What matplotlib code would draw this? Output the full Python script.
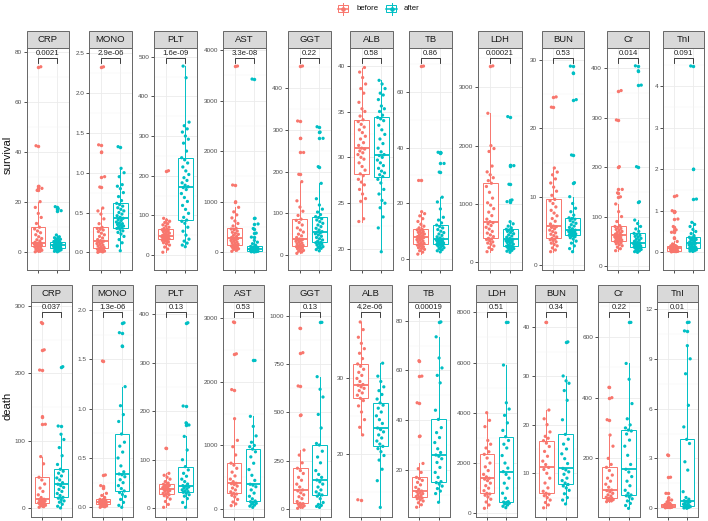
import numpy as np
import matplotlib
matplotlib.use("Agg")
import matplotlib.pyplot as plt
from matplotlib.patches import Rectangle
from matplotlib.lines import Line2D
from matplotlib.ticker import AutoMinorLocator
import matplotlib.transforms as mtrans

plt.rcParams['font.family'] = ['Liberation Sans', 'DejaVu Sans']

# ---------------- data ----------------
markers = ["CRP", "MONO", "PLT", "AST", "GGT", "ALB", "TB", "LDH", "BUN", "Cr", "TnI"]
groups = ["before", "after"]
row_names = ["survival", "death"]

surv_p = ["0.0021", "2.9e-06", "1.6e-09", "3.3e-08", "0.22", "0.58", "0.86", "0.00021", "0.53", "0.014", "0.091"]
death_p = ["0.037", "1.3e-06", "0.13", "0.53", "0.13", "4.2e-06", "0.00019", "0.51", "0.34", "0.22", "0.01"]

# survival row
surv_CRP_before = [0.2, 0.4, 0.6, 0.8, 1.0, 1.3, 1.6, 1.9, 2.2, 2.4, 2.6, 2.8, 2.9, 3.0, 3.1, 3.2, 3.3, 3.4, 3.5, 3.55, 3.6, 4.0, 4.5, 5.0, 5.5, 6.2, 7.0, 7.8, 8.5, 9.3, 10.0, 11.5, 13.9, 15.5, 17.9, 20.2, 24.7, 25.5, 26.3, 42.5, 74.0]
surv_CRP_after = [0.2, 0.4, 0.6, 0.8, 1.0, 1.2, 1.35, 1.5, 1.6, 1.7, 1.8, 1.9, 2.0, 2.1, 2.2, 2.3, 2.4, 2.5, 2.6, 2.7, 2.8, 2.95, 3.1, 3.25, 3.4, 3.55, 3.7, 3.85, 4.0, 4.15, 4.3, 4.6, 4.9, 5.2, 5.5, 5.8, 6.2, 6.9, 16.6, 17.4, 18.2]
surv_MONO_before = [0.0, 0.005, 0.01, 0.015, 0.02, 0.025, 0.03, 0.035, 0.04, 0.045, 0.05, 0.06, 0.07, 0.08, 0.09, 0.10, 0.11, 0.12, 0.13, 0.14, 0.146, 0.16, 0.18, 0.2, 0.22, 0.24, 0.26, 0.28, 0.29, 0.30, 0.314, 0.36, 0.42, 0.48, 0.52, 0.556, 0.82, 0.95, 1.26, 1.35, 2.33]
surv_MONO_after = [0.02, 0.08, 0.12, 0.16, 0.2, 0.23, 0.25, 0.27, 0.29, 0.30, 0.31, 0.32, 0.33, 0.34, 0.35, 0.36, 0.37, 0.38, 0.40, 0.41, 0.427, 0.44, 0.46, 0.48, 0.5, 0.52, 0.54, 0.56, 0.58, 0.60, 0.615, 0.65, 0.70, 0.75, 0.80, 0.83, 0.85, 0.95, 1.0, 1.055, 1.327]
surv_PLT_before = [7, 15, 20, 25, 28, 31, 33, 35, 37, 38.5, 39.6, 40.5, 41.5, 42.5, 43.5, 44.5, 45.5, 46.3, 47, 47.5, 47.9, 49.5, 51, 53, 55, 57, 59, 61, 62.5, 63.8, 64.8, 67, 70, 73, 76, 79, 82, 85, 88, 92.5, 212.5]
surv_PLT_after = [21, 25, 30, 35, 40, 50, 60, 70, 80, 85, 88, 95, 105, 115, 125, 135, 145, 155, 165, 170, 172.2, 176, 182, 188, 195, 203, 212, 222, 232, 240, 245.3, 262, 282, 292, 300, 310, 318, 326, 335, 447, 476.3]
surv_AST_before = [20, 40, 55, 70, 85, 95, 105, 115, 125, 135, 144, 160, 175, 190, 205, 220, 235, 250, 262, 270, 277, 295, 315, 335, 355, 375, 395, 420, 445, 460, 474, 520, 570, 620, 680, 740, 800, 889, 1000, 1330, 3682]
surv_AST_after = [5, 10, 13, 16, 19, 22, 24, 26, 28, 29, 30, 33, 37, 41, 45, 49, 53, 56, 58, 59, 60, 65, 70, 75, 80, 85, 90, 95, 102, 108, 115, 140, 170, 200, 235, 300, 380, 470, 560, 672, 3425]
surv_GGT_before = [4, 7, 9, 11, 13, 15, 17, 18.5, 20, 21, 21.6, 23, 25, 27, 29, 31, 33, 35, 36.5, 37.5, 38.4, 42, 46, 50, 55, 60, 65, 72, 78, 83, 86, 95, 105, 115, 130, 176, 193.6, 246, 280, 321.6, 453.6]
surv_GGT_after = [10, 13, 16, 18, 20, 22, 24, 26, 28, 29.5, 30.5, 33, 36, 39, 42, 45, 48, 51, 53, 55, 56, 60, 64, 68, 72, 76, 80, 84, 87, 90, 92, 97, 103, 110, 120, 135, 172, 212, 280, 295, 307.8]
surv_ALB_before = [23.0, 23.3, 25.2, 25.5, 26.0, 26.5, 27.0, 27.3, 27.6, 28.0, 28.2, 28.6, 29.0, 29.4, 29.8, 30.0, 30.3, 30.5, 30.7, 30.9, 31.0, 31.3, 31.6, 32.0, 32.3, 32.7, 33.0, 33.3, 33.6, 33.9, 34.1, 34.5, 35.0, 35.3, 36.0, 37.0, 37.5, 38.0, 38.7, 39.3, 39.8]
surv_ALB_after = [19.7, 22.3, 23.5, 24.5, 25.0, 25.3, 26.0, 26.5, 27.2, 27.6, 27.9, 28.1, 28.3, 28.5, 28.8, 29.1, 29.4, 29.7, 30.0, 30.2, 30.3, 30.6, 31.0, 31.5, 32.0, 32.5, 33.0, 33.5, 34.0, 34.2, 34.35, 34.6, 35.0, 35.3, 35.6, 36.3, 36.8, 37.0, 37.5, 38.0, 38.4]
surv_TB_before = [1.8, 2.5, 3.0, 3.5, 3.8, 4.1, 4.4, 4.7, 5.0, 5.15, 5.3, 5.6, 5.9, 6.2, 6.5, 6.8, 7.0, 7.3, 7.5, 7.7, 7.8, 8.1, 8.4, 8.7, 9.0, 9.3, 9.6, 9.9, 10.2, 10.5, 10.7, 11.2, 11.8, 12.5, 13.5, 14.5, 15.5, 16.3, 17.0, 28.2, 69.2]
surv_TB_after = [2.6, 3.0, 3.4, 3.8, 4.1, 4.4, 4.7, 4.9, 5.1, 5.25, 5.4, 5.6, 5.8, 6.0, 6.2, 6.4, 6.6, 6.8, 7.0, 7.1, 7.2, 7.6, 8.0, 8.5, 9.0, 9.5, 10.0, 10.6, 11.2, 11.7, 12.2, 13.0, 14.0, 15.0, 18.0, 20.5, 22.2, 31.2, 34.3, 38.1, 38.3]
surv_LDH_before = [182, 220, 250, 280, 310, 330, 350, 370, 390, 400, 411, 440, 470, 500, 530, 570, 600, 630, 660, 680, 696, 740, 800, 860, 920, 980, 1020, 1100, 1200, 1300, 1355, 1400, 1450, 1500, 1550, 1650, 1900, 1950, 2000, 2555, 3367]
surv_LDH_after = [172, 190, 205, 220, 235, 245, 255, 263, 270, 275, 280, 295, 310, 325, 340, 350, 360, 370, 380, 388, 394, 410, 430, 450, 470, 490, 510, 530, 545, 555, 566, 590, 620, 660, 696, 1040, 1069, 1338, 1657, 1660, 2498]
surv_BUN_before = [1.95, 2.2, 2.5, 2.8, 3.0, 3.2, 3.4, 3.6, 3.7, 3.8, 3.9, 4.1, 4.3, 4.5, 4.7, 4.9, 5.1, 5.3, 5.5, 5.6, 5.7, 6.0, 6.4, 6.8, 7.2, 7.6, 8.0, 8.5, 9.0, 9.4, 9.6, 10.2, 10.8, 11.4, 12.0, 12.6, 13.2, 13.6, 14.2, 23.1, 24.6]
surv_BUN_after = [1.95, 2.4, 2.8, 3.2, 3.5, 3.8, 4.0, 4.15, 4.25, 4.35, 4.4, 4.5, 4.55, 4.6, 4.7, 4.8, 4.85, 4.9, 5.0, 5.05, 5.1, 5.3, 5.5, 5.7, 5.9, 6.1, 6.3, 6.5, 6.7, 6.8, 6.9, 7.3, 7.8, 8.3, 9.0, 10.0, 12.05, 16.1, 24.2, 28.1, 29.1]
surv_Cr_before = [31, 35, 38, 41, 43, 45, 47, 48.5, 49.5, 50.5, 51.2, 52.5, 54, 55.5, 57, 58, 59, 60.5, 61.5, 62.3, 62.8, 64.5, 66, 68, 70, 72, 74, 76, 78, 80, 81.6, 90, 100, 110, 125.5, 140, 148, 155, 201, 295.5, 355]
surv_Cr_after = [27.7, 29, 30.5, 32, 33.5, 35, 36, 37, 38, 38.5, 39, 39.5, 40, 40.5, 41.5, 42.5, 43.5, 44.5, 45, 45.5, 46, 48, 50, 52, 54, 56, 58, 60, 62, 64, 66, 70, 75, 80, 86, 93, 130, 201, 366, 395, 405]
surv_TnI_before = [0.01, 0.015, 0.02, 0.022, 0.025, 0.028, 0.03, 0.033, 0.036, 0.038, 0.04, 0.045, 0.05, 0.055, 0.06, 0.065, 0.07, 0.075, 0.085, 0.09, 0.096, 0.1, 0.105, 0.11, 0.115, 0.12, 0.13, 0.14, 0.15, 0.155, 0.16, 0.2, 0.26, 0.35, 0.48, 0.54, 0.62, 0.8, 0.97, 1.0, 1.36]
surv_TnI_after = [0.02, 0.03, 0.04, 0.05, 0.06, 0.07, 0.075, 0.08, 0.085, 0.09, 0.096, 0.1, 0.11, 0.12, 0.13, 0.14, 0.16, 0.18, 0.2, 0.21, 0.216, 0.23, 0.25, 0.27, 0.29, 0.31, 0.32, 0.33, 0.34, 0.35, 0.36, 0.4, 0.45, 0.5, 0.55, 0.62, 0.67, 0.72, 1.28, 2.0, 4.48]

# death row
death_CRP_before = [1.5, 2.5, 3.5, 4.5, 5.5, 6.3, 7.0, 7.4, 8.2, 9.0, 10.0, 11.0, 12.0, 12.8, 13.4, 16, 20, 25, 30, 36, 42, 46, 66, 76.7, 124.6, 136, 205, 235, 275.5]
death_CRP_after = [0.5, 3, 6, 9, 11, 13, 15, 16.3, 19, 22, 25, 28, 31, 33.5, 35.6, 38, 42, 45, 48, 52, 55, 57.9, 65, 78, 90, 102, 109.8, 122, 210]
death_MONO_before = [0.0, 0.005, 0.01, 0.015, 0.02, 0.025, 0.028, 0.03, 0.034, 0.038, 0.041, 0.044, 0.047, 0.049, 0.05, 0.054, 0.058, 0.062, 0.067, 0.072, 0.077, 0.081, 0.1, 0.12, 0.142, 0.2, 0.22, 0.328, 1.483]
death_MONO_after = [0.0, 0.02, 0.05, 0.08, 0.11, 0.13, 0.15, 0.166, 0.19, 0.22, 0.25, 0.28, 0.31, 0.33, 0.338, 0.36, 0.42, 0.5, 0.56, 0.62, 0.66, 0.743, 0.87, 0.94, 1.03, 1.223, 1.635, 1.77, 1.87]
death_PLT_before = [2, 8, 14, 19, 23, 26, 28, 29.5, 31, 33, 35, 36.5, 38, 39, 39.8, 41, 42.5, 44, 45.5, 47, 48.3, 49.4, 52, 55, 60, 64, 68, 72, 123.5]
death_PLT_after = [2, 12, 20, 25, 28, 31, 33, 34.3, 36, 38, 40, 42, 44, 45.5, 46.7, 50, 55, 60, 66, 72, 79, 85.8, 100, 120, 148, 171.5, 176, 210.6, 382]
death_AST_before = [53, 80, 110, 150, 190, 215, 235, 247, 270, 300, 330, 360, 385, 398, 405, 430, 470, 520, 580, 640, 690, 721, 850, 980, 1080, 1421, 1879, 2442, 2942]
death_AST_after = [26, 45, 60, 75, 90, 105, 115, 126, 160, 200, 250, 300, 350, 375, 389, 450, 530, 620, 720, 820, 900, 942, 980, 1000, 1050, 1150, 1300, 1458, 2337]
death_GGT_before = [5, 10, 14, 18, 22, 26, 29, 31, 40, 55, 65, 75, 85, 95, 100, 115, 130, 150, 165, 185, 200, 212, 240, 280, 306, 487, 637, 809, 934.6]
death_GGT_after = [10, 15, 20, 25, 35, 55, 68, 74, 80, 90, 100, 115, 130, 142, 151, 165, 180, 200, 240, 270, 300, 332, 340, 420, 490, 580, 620, 685, 965.6]
death_ALB_before = [14.0, 22.5, 23.5, 24.5, 25.5, 26.3, 27.0, 27.3, 27.7, 28.0, 28.3, 28.6, 28.8, 29.0, 29.1, 29.5, 29.9, 30.3, 30.7, 31.1, 31.5, 31.8, 32.5, 33.2, 33.8, 34.5, 35.3, 36.3, 37.3]
death_ALB_after = [13.0, 16.5, 18.0, 19.2, 19.8, 20.3, 20.7, 21.0, 21.3, 21.7, 22.1, 22.5, 22.9, 23.2, 23.4, 24.0, 24.5, 25.0, 25.5, 26.0, 26.4, 26.7, 27.2, 27.8, 28.3, 28.8, 29.5, 30.2, 31.9]
death_TB_before = [5.0, 6.0, 6.8, 7.5, 8.0, 8.4, 8.7, 9.0, 9.3, 9.7, 10.1, 10.5, 10.9, 11.2, 11.5, 12.2, 13.0, 14.0, 15.0, 15.8, 16.5, 17.0, 19.0, 20.5, 22.6, 33.6, 47.0, 57.7, 63.9]
death_TB_after = [7.0, 10.5, 11.5, 12.5, 13.5, 14.3, 14.9, 15.3, 17.0, 19.0, 21.0, 23.0, 24.5, 25.5, 26.0, 27.0, 28.5, 31.0, 33.0, 35.0, 37.0, 40.3, 44.0, 55.0, 58.0, 61.0, 65.0, 73.5, 79.5]
death_LDH_before = [199, 330, 450, 560, 650, 720, 770, 796, 900, 1000, 1100, 1200, 1300, 1360, 1393, 1450, 1550, 1700, 1850, 2000, 2200, 2347, 2450, 2600, 2750, 2900, 3450, 3700, 4005]
death_LDH_after = [225, 280, 330, 370, 400, 430, 450, 464, 600, 800, 1000, 1200, 1400, 1550, 1658, 1800, 2000, 2300, 2600, 2750, 2900, 3050, 3300, 3600, 3900, 4150, 4400, 5902, 7600]
death_BUN_before = [2.9, 3.5, 4.0, 4.5, 5.0, 5.4, 5.7, 5.9, 6.3, 7.0, 8.0, 9.0, 10.0, 10.8, 11.2, 11.8, 12.5, 13.5, 14.5, 15.5, 16.2, 16.7, 17.2, 17.6, 18.5, 20.0, 21.2, 23.0, 41.0]
death_BUN_after = [3.7, 4.5, 5.0, 5.8, 6.5, 7.0, 7.4, 7.7, 8.0, 8.5, 9.0, 9.8, 10.3, 10.7, 11.0, 12.0, 13.0, 14.0, 15.0, 16.0, 17.0, 18.0, 21.0, 25.0, 27.0, 28.5, 29.0, 30.0, 37.0]
death_Cr_before = [57.5, 60, 62, 64, 65.5, 67, 68, 68.5, 72, 76, 80, 85, 90, 94, 95.9, 105, 115, 125, 135, 145, 160, 170.4, 180, 200, 240, 276.7, 327, 399.5, 433.4]
death_Cr_after = [35.6, 45, 52, 60, 67, 73, 77, 79.5, 85, 95, 110, 125, 140, 155, 164, 180, 210, 240, 260, 280, 290, 293, 300, 310, 330, 380, 460, 512, 647]
death_TnI_before = [0.03, 0.04, 0.05, 0.06, 0.07, 0.08, 0.09, 0.10, 0.11, 0.12, 0.13, 0.14, 0.15, 0.155, 0.16, 0.17, 0.18, 0.19, 0.2, 0.21, 0.23, 0.24, 0.3, 0.38, 0.5, 0.64, 0.9, 1.87, 3.21]
death_TnI_after = [0.0, 0.02, 0.05, 0.08, 0.1, 0.12, 0.14, 0.16, 0.2, 0.25, 0.3, 0.35, 0.4, 0.43, 0.46, 0.55, 0.65, 1.0, 2.3, 2.8, 3.9, 4.15, 4.9, 6.2, 8.1, 9.0, 9.79, 10.68, 11.2]

surv_ticks = [[0, 20, 40, 60, 80], [0, 0.5, 1.0, 1.5, 2.0, 2.5], [0, 100, 200, 300, 400, 500],
              [0, 1000, 2000, 3000, 4000], [0, 100, 200, 300, 400], [20, 25, 30, 35, 40],
              [0, 20, 40, 60], [0, 1000, 2000, 3000], [0, 10, 20, 30], [0, 100, 200, 300, 400],
              [0, 1, 2, 3, 4]]
death_ticks = [[0, 100, 200, 300], [0, 0.5, 1.0, 1.5, 2.0], [0, 100, 200, 300, 400],
               [0, 1000, 2000, 3000], [0, 250, 500, 750, 1000], [20, 30],
               [20, 40, 60, 80], [0, 2000, 4000, 6000, 8000], [10, 20, 30, 40], [200, 400, 600],
               [0, 3, 6, 9, 12]]

# ---------------- layout (pixels) ----------------
W, H = 708, 521
surv_ylim = [(-7.06, 81.6), (-0.222, 2.57), (-37.8, 522.7), (-350, 4045), (-36, 497.5), (17.71, 41.96),
             (-3.9, 75.8), (-132, 3679), (-0.73, 31.8), (-8.1, 441.7), (-0.426, 4.92)]
death_ylim = [(-12.9, 305.9), (-0.098, 2.081), (-17.9, 424.7), (-126, 3257), (-39.8, 1070.7), (11.74, 39.92),
              (1.08, 87.5), (-147, 8412), (1.02, 45.2), (7.2, 714), (-0.524, 12.42)]
surv_xpix = [(26.5, 69), (89, 132), (154, 197), (223, 266), (288, 331), (350, 393), (409, 452),
             (478, 522), (542, 584), (607, 649), (663, 704)]
death_xpix = [(30.7, 71.7), (91.7, 133), (155, 197), (222.7, 264), (289, 331), (349, 392), (408, 450),
              (476, 517), (535, 577), (598, 640), (657, 698)]
row_y = [(47.7, 270.0), (302.0, 517.0)]
strip_h = 16.7

colors = {"before": "#F8766D", "after": "#00BFC4"}

data = {
    "survival": {m: (globals()[f"surv_{m}_before"], globals()[f"surv_{m}_after"]) for m in markers},
    "death": {m: (globals()[f"death_{m}_before"], globals()[f"death_{m}_after"]) for m in markers},
}

fig = plt.figure(figsize=(W / 100, H / 100), dpi=100)


def fmt_tick(v, ticks):
    if any(abs(t - round(t)) > 1e-9 for t in ticks):
        return f"{v:.1f}"
    return f"{int(round(v))}"


for r, row in enumerate(row_names):
    y0, y1 = row_y[r]
    xp = surv_xpix if r == 0 else death_xpix
    ylims = surv_ylim if r == 0 else death_ylim
    ticks = surv_ticks if r == 0 else death_ticks
    pvals = surv_p if r == 0 else death_p
    hpx = y1 - y0
    for i, m in enumerate(markers):
        x0, x1 = xp[i]
        ax = fig.add_axes([x0 / W, 1 - y1 / H, (x1 - x0) / W, hpx / H])

        vals = data[row][m]
        for g, (gname, v) in enumerate(zip(groups, vals)):
            c = colors[gname]
            ax.boxplot([v], positions=[g + 1], widths=0.75, whis=1.5, showcaps=False,
                       patch_artist=True, manage_ticks=False,
                       boxprops=dict(facecolor="white", edgecolor=c, linewidth=0.7),
                       medianprops=dict(color=c, linewidth=1.3),
                       whiskerprops=dict(color=c, linewidth=0.7),
                       flierprops=dict(marker="o", markerfacecolor=c, markeredgecolor="none",
                                       markersize=2.5),
                       zorder=2)
            n = len(v)
            offs = np.array([((k * 0.618034 + 0.37 * g + 0.13) % 1.0 - 0.5) * 0.4 for k in range(n)])
            ax.scatter(g + 1 + offs, v, s=5.5, color=c, edgecolors="none", zorder=3)

        ax.set_xlim(0.4, 2.6)
        ax.set_ylim(*ylims[i])
        ax.set_axisbelow(True)
        ax.set_xticks([1, 2])
        ax.set_xticklabels(["", ""])
        ax.set_yticks(ticks[i])
        ax.set_yticklabels([fmt_tick(t, ticks[i]) for t in ticks[i]])
        ax.yaxis.set_minor_locator(AutoMinorLocator(2))
        ax.grid(True, which="major", color="#EBEBEB", lw=0.6)
        ax.grid(True, which="minor", axis="y", color="#F4F4F4", lw=0.35)
        ax.tick_params(axis="both", which="major", length=2.3, width=0.6, color="#333333",
                       labelsize=4.6, labelcolor="#4D4D4D", pad=1.2)
        ax.tick_params(axis="both", which="minor", length=0)
        for s in ax.spines.values():
            s.set_color("#666666")
            s.set_linewidth(0.7)

        # comparison bracket
        trans = mtrans.blended_transform_factory(ax.transData, ax.transAxes)
        yb = 1 - 9.8 / hpx
        leg = 5.0 / hpx
        ax.add_line(Line2D([1, 1, 2, 2], [yb - leg, yb, yb, yb - leg], transform=trans,
                           color="#222222", lw=0.6, clip_on=False, zorder=4))
        ax.text(1.5, yb + 0.6 / hpx, pvals[i], transform=trans, ha="center", va="bottom",
                fontsize=5.6, color="#222222", zorder=4)

        # strip
        sh = strip_h / hpx
        ax.add_patch(Rectangle((0, 1), 1, sh, transform=ax.transAxes, facecolor="#D9D9D9",
                               edgecolor="#666666", lw=0.7, clip_on=False, zorder=5))
        ax.text(0.5, 1 + sh / 2, m, transform=ax.transAxes, ha="center", va="center",
                fontsize=6.8, color="#1A1A1A", zorder=6)

    fig.text(7.5 / W, 1 - ((y0 + y1) / 2 - 4) / H, row, rotation=90, ha="center", va="center",
             fontsize=8.1, color="#111111")

# ---------------- legend ----------------
def px(x, y):
    return x / W, 1 - y / H

for gname, xc, tx in [("before", 343, 357), ("after", 391.5, 404)]:
    c = colors[gname]
    bx0, by0 = px(xc - 5, 12)
    bx1, by1 = px(xc + 5, 5)
    fig.add_artist(Line2D([xc / W, xc / W], [1 - 2.5 / H, 1 - 14.5 / H], color=c, lw=0.7))
    fig.add_artist(Rectangle((bx0, by0), bx1 - bx0, by1 - by0, transform=fig.transFigure,
                             facecolor="white", edgecolor=c, lw=0.7))
    fig.add_artist(Line2D([bx0, bx1], [1 - 8.5 / H, 1 - 8.5 / H], color=c, lw=1.1))
    fig.add_artist(Line2D([xc / W], [1 - 8.5 / H], marker="o", markersize=2.3, color=c, lw=0))
    fig.text(tx / W, 1 - 8.5 / H, gname, ha="left", va="center", fontsize=5.6, color="#111111")

fig.savefig("out.png", dpi=100)
